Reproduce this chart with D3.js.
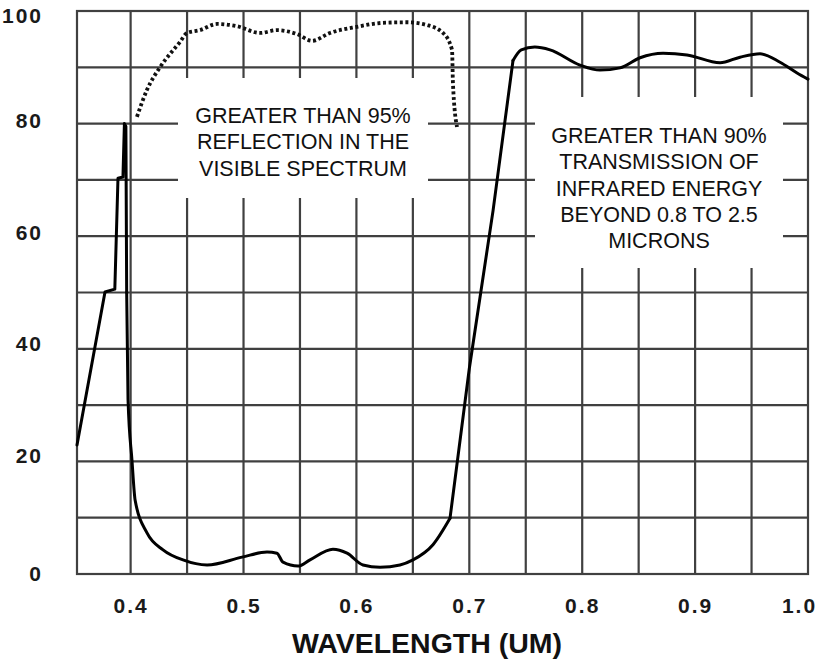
<!DOCTYPE html>
<html>
<head>
<meta charset="utf-8">
<script src="https://cdn.jsdelivr.net/npm/d3@7"></script>
<style>
  body { margin: 0; background: #fff; }
  svg { display: block; }
  text { font-family: "Liberation Sans", Arial, Helvetica, sans-serif; }
</style>
</head>
<body>
<div id="chart"></div>
<script>
// tick labels
var xTicks = [0.4, 0.5, 0.6, 0.7, 0.8, 0.9, 1.0];
var yTicks = [0, 20, 40, 60, 80, 100];
var xGrid = [0.4, 0.45, 0.5, 0.55, 0.6, 0.65, 0.7, 0.75, 0.8, 0.85, 0.9, 0.95];
var yGrid = [10, 20, 30, 40, 50, 60, 70, 80, 90];

// transmission (solid line), wavelength in um / percent
var transWl = [0.3525, 0.3773, 0.386, 0.3888, 0.3932, 0.3945, 0.3958, 0.3965, 0.3977, 0.4012, 0.404, 0.4145,
  0.4287, 0.4464, 0.4677, 0.4987, 0.5208, 0.5296, 0.535, 0.5483, 0.5589, 0.5792, 0.5917, 0.6058, 0.6209,
  0.6386, 0.6501, 0.6678, 0.6829, 0.7, 0.721, 0.7387, 0.746, 0.758, 0.7715, 0.798, 0.8157, 0.8335, 0.8512,
  0.8716, 0.8928, 0.9221, 0.9398, 0.9575, 0.9752, 0.9903, 1.0];
var transPct = [22.9, 50.1, 50.6, 70.3, 70.5, 80, 79.5, 50, 31, 20.2, 13.1, 7.3,
  4.3, 2.5, 1.6, 3.0, 3.9, 3.7, 2.1, 1.4, 2.5, 4.4, 3.7, 1.6, 1.2,
  1.6, 2.5, 5.2, 9.9, 36.5, 64.5, 91.2, 93.1, 93.6, 93.1, 90.4, 89.5, 89.9, 91.7,
  92.5, 92.2, 90.8, 91.8, 92.4, 90.9, 89.0, 87.9];

// reflection (dotted line)
var reflWl = [0.4056, 0.4145, 0.426, 0.4437, 0.45, 0.4614, 0.4765, 0.4942, 0.5146, 0.5296, 0.5474,
  0.5607, 0.5766, 0.6005, 0.6235, 0.6448, 0.6625, 0.6767, 0.6847, 0.6855, 0.6891];
var reflPct = [81.2, 86, 90, 94.5, 96.1, 96.6, 97.7, 97.3, 96.1, 96.6, 95.9,
  94.7, 96.1, 97.2, 97.9, 98.0, 97.5, 96.1, 93.1, 87.2, 79.4];

var note1 = ["GREATER THAN 95%", "REFLECTION IN THE", "VISIBLE SPECTRUM"];
var note2 = ["GREATER THAN 90%", "TRANSMISSION OF", "INFRARED ENERGY", "BEYOND 0.8 TO 2.5", "MICRONS"];

var W = 824, H = 661;
var svg = d3.select("#chart").append("svg")
	.attr("width", W)
	.attr("height", H);

var x = d3.scaleLinear().domain([0.3525, 1.0]).range([77, 808]);
var y = d3.scaleLinear().domain([0, 100]).range([574, 11]);
// the printed y labels sit a little off the grid lines
var yLab = d3.scaleLinear().domain([0, 20, 80, 100]).range([573, 455, 120, 15]);

var gridColor = "#404040";

// grid
svg.append("g").selectAll("line")
	.data(xGrid)
  .enter().append("line")
	.attr("x1", function(d) { return x(d); })
	.attr("x2", function(d) { return x(d); })
	.attr("y1", y(0)).attr("y2", y(100))
	.attr("stroke", gridColor).attr("stroke-width", 2.2);

svg.append("g").selectAll("line")
	.data(yGrid)
  .enter().append("line")
	.attr("y1", function(d) { return y(d); })
	.attr("y2", function(d) { return y(d); })
	.attr("x1", x.range()[0]).attr("x2", x.range()[1])
	.attr("stroke", gridColor).attr("stroke-width", 2.2);

// white boxes behind the notes
svg.append("rect").attr("x", 178).attr("y", 78).attr("width", 250).attr("height", 120).attr("fill", "#fff");
svg.append("rect").attr("x", 535).attr("y", 97).attr("width", 248).attr("height", 171).attr("fill", "#fff");

// frame
svg.append("rect")
	.attr("x", x.range()[0]).attr("y", y(100))
	.attr("width", x.range()[1] - x.range()[0])
	.attr("height", y(0) - y(100))
	.attr("fill", "none")
	.attr("stroke", gridColor).attr("stroke-width", 2.2);

// notes
function note(lines, cx, y0) {
	svg.append("g").selectAll("text")
		.data(lines)
	  .enter().append("text")
		.attr("x", cx)
		.attr("y", function(d, i) { return y0 + i * 26.3; })
		.attr("text-anchor", "middle")
		.attr("font-size", 21.5)
		.attr("fill", "#111")
		.text(function(d) { return d; });
}
note(note1, 303, 123);
note(note2, 659, 143);

// curves
function lineOf(curve) {
	return d3.line()
		.x(function(d) { return x(d[0]); })
		.y(function(d) { return y(d[1]); })
		.curve(curve);
}

svg.append("path")
	.datum(reflWl.map(function(d, i) { return [d, reflPct[i]]; }))
	.attr("d", lineOf(d3.curveMonotoneX))
	.attr("fill", "none")
	.attr("stroke", "#111")
	.attr("stroke-width", 3.8)
	.attr("stroke-dasharray", "3,2.6");

// the transmission trace has straight runs (steps, rising edge) and smooth runs
var trans = transWl.map(function(d, i) { return [d, transPct[i]]; });
var pieces = [
	[0, 7, d3.curveLinear],
	[7, 28, d3.curveMonotoneX],
	[28, 31, d3.curveLinear],
	[31, trans.length - 1, d3.curveMonotoneX]
];
pieces.forEach(function(p) {
	svg.append("path")
		.datum(trans.slice(p[0], p[1] + 1))
		.attr("d", lineOf(p[2]))
		.attr("fill", "none")
		.attr("stroke", "#000")
		.attr("stroke-width", 3)
		.attr("stroke-linejoin", "round")
		.attr("stroke-linecap", "round");
});

// axes (labels only)
var xAxis = svg.append("g")
	.attr("transform", "translate(0," + y(0) + ")")
	.call(d3.axisBottom(x).tickValues(xTicks).tickFormat(d3.format(".1f")).tickSize(0).tickPadding(24));
var yAxis = svg.append("g")
	.attr("transform", "translate(" + x.range()[0] + ",0)")
	.call(d3.axisLeft(yLab).tickValues(yTicks).tickFormat(d3.format("d")).tickSize(0).tickPadding(34));
[xAxis, yAxis].forEach(function(a) {
	a.select(".domain").remove();
	a.selectAll("text")
		.attr("font-family", "'Liberation Sans', Arial, sans-serif")
		.attr("font-size", 21)
		.attr("font-weight", "bold")
		.attr("letter-spacing", 2)
		.attr("fill", "#1a1a1a");
});
yAxis.selectAll("text").attr("dy", "0.36em");
xAxis.selectAll("text").filter(function(d) { return d === 1.0; }).attr("dx", -9);

svg.append("text")
	.attr("x", 427)
	.attr("y", 653)
	.attr("text-anchor", "middle")
	.attr("font-size", 28.5)
	.attr("font-weight", "bold")
	.attr("fill", "#111")
	.text("WAVELENGTH (UM)");
</script>
</body>
</html>
